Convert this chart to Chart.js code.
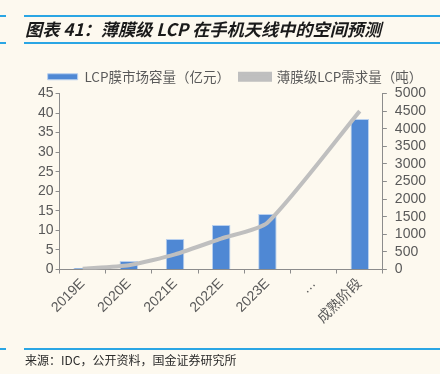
<!DOCTYPE html>
<html>
<head>
<meta charset="utf-8">
<script src="https://cdn.jsdelivr.net/npm/chart.js@4"></script>
<style>
  html, body { margin: 0; padding: 0; background: #fdf9ef; }
  #wrap { position: relative; width: 440px; height: 374px; overflow: hidden; }
  #chart { position: absolute; left: 0; top: 0; }
  .rule { position: absolute; height: 2px; background: #2aa6e4; }
  #title {
    position: absolute; left: 25px; top: 17px;
    font: italic bold 17.2px "Noto Sans CJK SC", sans-serif; color: #1a1a1a;
    white-space: nowrap; line-height: 24px;
  }
  #source {
    position: absolute; left: 25px; top: 352px;
    font: 12px "Noto Sans CJK SC", sans-serif; color: #2b2b2b;
    white-space: nowrap; line-height: 16px;
  }
</style>
</head>
<body>
<div id="wrap">
  <canvas id="chart" width="440" height="374"></canvas>
  <div class="rule" style="left:0;width:6px;top:15px"></div>
  <div class="rule" style="left:24px;width:416px;top:15px"></div>
  <div class="rule" style="left:0;width:6px;top:42px"></div>
  <div class="rule" style="left:24px;width:416px;top:42px"></div>
  <div id="title">图表 41：薄膜级 LCP 在手机天线中的空间预测</div>
  <div class="rule" style="left:0;width:6px;top:348px"></div>
  <div class="rule" style="left:24px;width:416px;top:348px"></div>
  <div id="source">来源：IDC，公开资料，国金证券研究所</div>
</div>
<script>
// categories and series
const categories = ['2019E', '2020E', '2021E', '2022E', '2023E', '…', '成熟阶段'];
const marketSize = [0.4, 2.2, 7.8, 11.4, 14.2, null, 38.5];   // 亿元, left axis
const demandTons = [20, 120, 430, 880, 1330, null, 4500];     // 吨, right axis
const leftTicks = [0, 5, 10, 15, 20, 25, 30, 35, 40, 45];
const rightTicks = [0, 500, 1000, 1500, 2000, 2500, 3000, 3500, 4000, 4500, 5000];

const axisColor = '#8c8c8c';
const textColor = '#595959';

const ctx = document.getElementById('chart').getContext('2d');
const chart = new Chart(ctx, {
    type: 'bar',
    data: {
        labels: categories,
        datasets: [{
            type: 'bar',
            label: 'LCP膜市场容量（亿元）',
            data: marketSize,
            yAxisID: 'y',
            backgroundColor: '#4f88d4',
            borderColor: '#b9d0ee',
            borderWidth: 1,
            categoryPercentage: 1,
            barPercentage: 0.4,
            order: 2
        }, {
            type: 'line',
            label: '薄膜级LCP需求量（吨）',
            data: demandTons,
            yAxisID: 'y1',
            borderColor: '#bfbfbf',
            backgroundColor: '#bfbfbf',
            borderWidth: 4,
            pointRadius: 0,
            tension: 0.2,
            spanGaps: true,
            order: 1
        }]
    },
    options: {
        responsive: false,
        animation: false,
        devicePixelRatio: 1,
        layout: { padding: { top: 60, left: 36, right: 6, bottom: 45 } },
        plugins: {
            tooltip: { enabled: false },
            legend: {
                position: 'top',
                labels: {
                    sort: (a, b) => a.datasetIndex - b.datasetIndex,
                    boxWidth: 30,
                    boxHeight: 6,
                    padding: 10,
                    color: textColor,
                    font: { family: '"Noto Sans CJK SC", sans-serif', size: 13.5 }
                }
            }
        },
        scales: {
            x: {
                grid: { display: true, drawOnChartArea: false, tickLength: 4, color: axisColor, offset: true },
                border: { color: axisColor },
                ticks: {
                    color: textColor, maxRotation: 45, minRotation: 45, padding: 2, autoSkip: false,
                    font: { family: '"Liberation Sans", "Noto Sans CJK SC", sans-serif', size: 14 }
                }
            },
            y: {
                position: 'left',
                min: 0, max: leftTicks[leftTicks.length - 1],
                afterBuildTicks: axis => { axis.ticks = leftTicks.map(v => ({ value: v })); },
                grid: { drawOnChartArea: false, tickLength: 4, color: axisColor },
                border: { color: axisColor },
                ticks: {
                    color: textColor, padding: 2, autoSkip: false,
                    font: { family: '"Liberation Sans", sans-serif', size: 14 }
                }
            },
            y1: {
                position: 'right',
                min: 0, max: rightTicks[rightTicks.length - 1],
                afterBuildTicks: axis => { axis.ticks = rightTicks.map(v => ({ value: v })); },
                grid: { drawOnChartArea: false, tickLength: 4, color: axisColor },
                border: { color: axisColor },
                ticks: {
                    color: textColor, padding: 8, autoSkip: false,
                    callback: v => String(v),
                    font: { family: '"Liberation Sans", sans-serif', size: 14 }
                }
            }
        }
    }
});
</script>
</body>
</html>
